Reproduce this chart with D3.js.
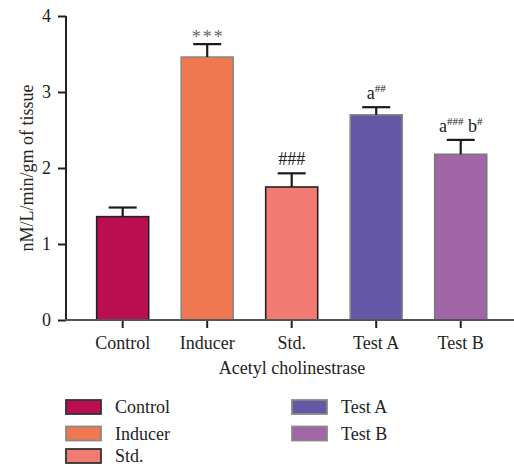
<!DOCTYPE html>
<html><head><meta charset="utf-8">
<script src="https://cdn.jsdelivr.net/npm/d3@7"></script>
<style>body{margin:0;background:#fff}svg{display:block}text{font-family:"Liberation Serif","Times New Roman",serif;fill:#222}</style>
</head><body><div id="chart"></div>
<script>
const categories = ["Control","Inducer","Std.","Test A","Test B"];
const means = [1.36, 3.46, 1.75, 2.70, 2.18];
const errors = [0.12, 0.17, 0.18, 0.10, 0.19];
const colors = ["#B90F50","#F07850","#F27B74","#6458A6","#A066A8"];
const strokes = ["#222","#888","#222","#888","#777"];
const annotations = [
  [],
  [{t:"***", sup:false}],
  [{t:"###", sup:false}],
  [{t:"a", sup:false},{t:"##", sup:true}],
  [{t:"a", sup:false},{t:"###", sup:true},{t:" b", sup:false},{t:"#", sup:true}]
];
const yTicks = [0,1,2,3,4];
const yLabel = "nM/L/min/gm of tissue";
const xTitle = "Acetyl cholinestrase";

const W = 514, H = 466;
const FONT = "'Liberation Serif','Times New Roman',serif";
const svg = d3.select("#chart").append("svg").attr("width", W).attr("height", H);

const x = d3.scaleBand().domain(categories).range([66, 517.4]).paddingInner(0.3846).paddingOuter(0.363);
const y = d3.scaleLinear().domain([0,4]).range([320, 16]);

// bars
svg.selectAll("rect.bar").data(categories).join("rect")
  .attr("x", d => x(d)).attr("width", x.bandwidth())
  .attr("y", (d,i) => y(means[i])).attr("height", (d,i) => y(0) - y(means[i]))
  .attr("fill", (d,i) => colors[i]).attr("stroke", (d,i) => strokes[i]).attr("stroke-width", 1.6);

// error bars
const eg = svg.append("g").attr("stroke", "#1a1a1a").attr("stroke-width", 2.2);
categories.forEach((c,i) => {
  const cx = x(c) + x.bandwidth()/2;
  eg.append("line").attr("x1", cx).attr("x2", cx).attr("y1", y(means[i])).attr("y2", y(means[i]+errors[i]));
  eg.append("line").attr("x1", cx-14).attr("x2", cx+14).attr("y1", y(means[i]+errors[i])).attr("y2", y(means[i]+errors[i]));
});

// annotations
categories.forEach((c,i) => {
  if (!annotations[i].length) return;
  const cx = x(c) + x.bandwidth()/2;
  const top = y(means[i]+errors[i]);
  const isStar = annotations[i][0].t === "***";
  const t = svg.append("text").attr("x", cx + (isStar ? 1 : 0)).attr("y", isStar ? top - 1 : top - 8)
    .attr("text-anchor", "middle").style("font-size", "18px").style("font-family", FONT);
  if (isStar) t.style("fill", "#666").style("letter-spacing", "2px");
  annotations[i].forEach(p => {
    const s = t.append("tspan").text(p.t);
    if (p.sup) s.style("font-size", "11px").attr("baseline-shift", "7");
  });
});

// axes
const yAxis = svg.append("g").attr("transform", "translate(66,0)")
  .call(d3.axisLeft(y).tickValues(yTicks).tickSize(8).tickPadding(7).tickFormat(d3.format("d")));
yAxis.select(".domain").remove();
yAxis.selectAll(".tick line").attr("stroke", "#222").attr("stroke-width", 2);
yAxis.selectAll("text").style("font-size", "18px").style("font-family", FONT).attr("fill", "#222");
svg.append("line").attr("x1", 66).attr("x2", 66).attr("y1", 16).attr("y2", 320).attr("stroke", "#222").attr("stroke-width", 2);

const xAxis = svg.append("g").attr("transform", "translate(0,320)")
  .call(d3.axisBottom(x).tickSize(8).tickPadding(8));
xAxis.select(".domain").remove();
xAxis.selectAll(".tick line").attr("stroke", "#222").attr("stroke-width", 2);
xAxis.selectAll("text").style("font-size", "18px").style("font-family", FONT).attr("fill", "#222");
svg.append("line").attr("x1", 65).attr("x2", 514).attr("y1", 320).attr("y2", 320).attr("stroke", "#555").attr("stroke-width", 1.8);

svg.append("text").attr("x", 292).attr("y", 374).attr("text-anchor", "middle").style("font-size", "18px").style("font-family", FONT).text(xTitle);
svg.append("text").attr("transform", "translate(33,168) rotate(-90)").attr("text-anchor", "middle").style("font-size", "18px").style("font-family", FONT).text(yLabel);

// legend
const legendPos = [[66,400],[66,426.5],[66,449],[292,400],[292,426.5]];
categories.forEach((c,i) => {
  const [lx, ly] = legendPos[i];
  svg.append("rect").attr("x", lx).attr("y", ly).attr("width", 35).attr("height", 14)
    .attr("fill", colors[i]).attr("stroke", i===0||i===2 ? "#333" : "#888").attr("stroke-width", 1.8);
  svg.append("text").attr("x", lx + 49).attr("y", ly + 13).style("font-size", "18px").style("font-family", FONT).text(c);
});
</script></body></html>
